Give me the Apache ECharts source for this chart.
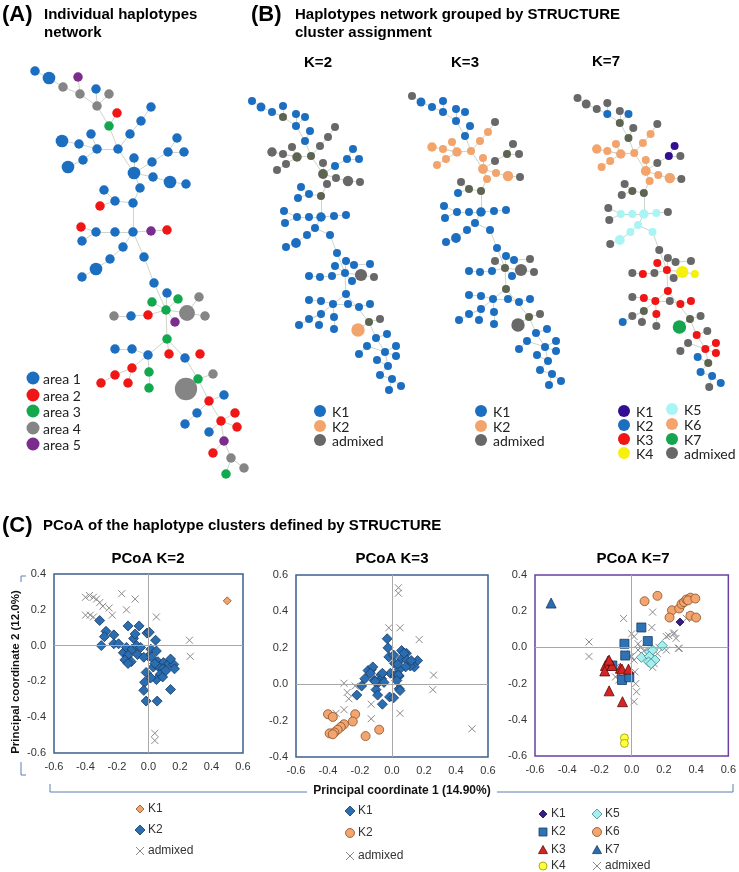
<!DOCTYPE html>
<html>
<head>
<meta charset="utf-8">
<script src="https://cdn.jsdelivr.net/npm/echarts@6/dist/echarts.min.js"></script>
<style>
  html, body { margin: 0; padding: 0; background: #fff; }
  #main { width: 739px; height: 872px; }
</style>
</head>
<body>
<div id="main"></div>
<script>
// ---------- (A) individual haplotype network (layout units)
var netA_pos = [
  [15,11],[29,18],[58,17],[43,27],[60,34],[76,29],[89,34],[77,46],[97,53],[89,66],
  [131,47],[121,61],[110,74],[98,89],[71,74],[59,84],[42,81],[77,89],[63,100],[48,107],
  [157,78],[148,92],[164,92],[114,98],[132,102],[114,113],[133,117],[150,122],[166,124],[120,128],
  [84,130],[95,141],[113,143],[80,146],[61,167],[76,172],[95,172],[113,172],[131,171],[147,170],
  [62,181],[103,187],[90,199],[76,209],[62,217],[124,197],[134,223],[147,233],[158,239],[132,242],
  [179,237],[146,250],[167,253],[185,256],[155,262],[128,255],[111,256],[94,256],[147,279],[95,289],
  [112,289],[128,295],[149,294],[165,298],[180,294],[112,308],[95,315],[81,323],[108,323],[129,312],
  [129,328],[178,319],[193,314],[166,329],[204,335],[189,341],[177,353],[165,364],[201,361],[215,353],
  [217,367],[189,372],[204,381],[193,393],[211,398],[224,408],[206,414]
];
// sampling area of each haplotype (1..5)
var netA_area = ('1154414423' + '1111111111' + '1111111111' + '1112211152' + '1111111133' +
                 '4344521431' + '1121222223' + '3344121122' + '2152443').split('');
var netA_freq = [
  1,2,1,1,1,1,1,1,1,1, 1,1,1,1,1,1,2,1,1,2, 1,1,1,1,1,2,1,2,1,1,
  1,1,1,1,1,1,1,1,1,1, 1,1,1,2,1,1,1,1,1,1, 1,1,3,1,1,1,1,1,1,1,
  1,1,1,1,1,1,1,1,1,1, 1,1,1,5,1,1,1,1,1,1, 1,1,1,1,1,1,1
];
var netA_links = [
  [0,1],[1,3],[3,4],[2,4],[4,7],[5,7],[6,7],[7,9],[8,9],[9,13],[10,11],[11,12],[12,13],[13,17],
  [14,17],[15,17],[16,15],[17,18],[18,19],[13,25],[23,25],[24,25],[21,24],[20,21],[22,21],[25,26],
  [26,27],[27,28],[25,29],[29,32],[31,32],[30,31],[33,31],[32,37],[36,37],[35,36],[34,35],[40,35],
  [37,38],[38,39],[37,41],[41,42],[42,43],[43,44],[37,45],[45,46],[46,51],[47,51],[48,51],[49,51],
  [51,52],[50,52],[52,53],[51,54],[51,55],[55,56],[56,57],[51,58],[58,61],[58,62],[58,63],[60,61],
  [59,60],[61,65],[65,66],[66,67],[65,68],[61,69],[69,70],[63,71],[71,72],[71,73],[71,75],[74,75],
  [75,76],[76,77],[75,78],[78,79],[78,80],[78,81],[78,82],[82,83],[82,84],[84,85],[84,86]
];

// ---------- (B) network grouped by STRUCTURE (same layout in the three panels)
var netB_pos = [
  [12,11],[21,17],[32,22],[43,16],[43,27],[56,24],[65,27],[56,36],[70,41],[95,37],
  [88,47],[65,51],[80,56],[32,62],[43,64],[52,57],[57,67],[71,66],[113,59],[107,69],
  [119,69],[46,74],[37,80],[83,73],[95,76],[83,84],[96,88],[108,91],[120,92],[87,94],
  [61,97],[58,108],[69,104],[81,106],[44,121],[45,133],[57,127],[69,127],[81,127],[94,126],
  [106,125],[75,138],[67,145],[56,153],[46,157],[90,145],[97,163],[95,176],[106,171],[114,175],
  [130,174],[69,186],[80,187],[92,186],[105,183],[121,185],[134,187],[112,191],[106,204],[69,210],
  [81,211],[93,214],[108,214],[119,217],[130,214],[81,224],[69,229],[94,227],[59,235],[79,235],
  [94,239],[129,232],[140,229],[118,240],[147,244],[136,248],[127,256],[145,262],[156,256],[119,264],
  [137,270],[156,266],[148,276],[140,285],[152,289],[161,296],[149,300]
];
var netB_freq = [
  1,1.3,1,1,1,1,1,1,1,1, 1,1,1,1.5,1,1,1.5,1,1,1, 1,1,1,1,1,1.6,1,1.8,1,1,
  1,1,1,1,1,1,1,1,1.5,1, 1,1,1,1.6,1,1,1,1,1,1, 1,1,1,1,1,2.4,1,1,1,1,
  1,1,1,1,1,1,1,1,1,1, 1,1,1,2.8,1,1,1,1,1,1, 1,1,1,1,1,1,1
];
var netB_links = [
  [0,1],[1,2],[2,4],[3,4],[4,7],[5,7],[6,7],[7,11],[8,11],[11,17],[16,17],[13,16],[14,16],[15,16],
  [16,21],[21,22],[12,17],[10,12],[9,10],[17,25],[23,25],[24,25],[19,24],[18,19],[19,20],[25,26],
  [26,27],[27,28],[25,29],[29,33],[32,33],[30,32],[31,32],[33,38],[37,38],[36,37],[35,36],[34,36],
  [38,39],[39,40],[38,41],[41,42],[42,43],[43,44],[41,45],[45,46],[46,54],[47,54],[48,54],[48,49],
  [49,50],[53,54],[52,53],[51,52],[54,55],[55,56],[54,57],[54,58],[58,61],[60,61],[59,60],[61,62],
  [62,63],[63,64],[61,65],[65,66],[65,68],[61,67],[67,70],[65,69],[58,71],[71,72],[71,73],[71,75],
  [74,75],[75,77],[77,78],[77,81],[76,77],[76,79],[77,82],[80,82],[82,83],[83,84],[84,85],[84,86]
];
// cluster of each haplotype: b=K1, r=K2, a=admixed, o=median/hub
var clusK2 = ('bbbbobbbba' + 'abaaaaoobb' + 'baaaboaaaa' + 'bbbobbbbbb' + 'bbbbbbbbbb' +
              'bbbbbaabbb' + 'bbbbbbbbbb' + 'boarbbbbbb' + 'bbbbbbb').split('');
var clusK3 = ('abbbbbbbba' + 'rbrrrrrrao' + 'arrrarrrar' + 'aboobbbbbb' + 'bbbbbbbabb' +
              'abbboaabob' + 'bbbbbbbbbb' + 'boaabbbbbb' + 'bbbbbbb').split('');
// K=7: digits are K1..K7
var clusK7 = ('aaaa2a2oaa' + '6o66666611' + 'a666a666a6' + 'aaooaa5555' + 'a555a5a3aa' +
              'aa3a344a3a' + '33a33oa32a' + 'aoa7a3a33a' + '23o222a').split('');

// ---------- (C) PCoA coordinates
var pcoaK2_K1 = [[0.50,0.25]];
var pcoaK2_K2 = [
  [-0.31,0.14],[-0.27,0.08],[-0.28,0.05],[-0.30,0.0],[-0.22,0.06],[-0.22,0.01],[-0.19,0.01],
  [-0.16,-0.04],[-0.13,0.11],[-0.06,0.11],[-0.095,0.04],[-0.085,0.065],[-0.14,-0.01],[-0.105,-0.02],
  [-0.13,-0.055],[-0.15,-0.08],[-0.11,-0.09],[-0.13,-0.10],[-0.075,0.0],[-0.05,-0.01],[-0.07,-0.05],
  [-0.01,0.07],[0.005,0.075],[0.015,-0.02],[0.0,-0.06],[0.045,0.03],[0.05,-0.03],[0.02,-0.065],
  [0.06,-0.09],[0.095,-0.095],[0.13,-0.10],[0.16,-0.105],[0.14,-0.075],[0.165,-0.13],[0.03,-0.12],
  [0.065,-0.12],[0.09,-0.13],[0.075,-0.16],[0.05,-0.19],[0.015,-0.18],[-0.015,-0.15],[0.09,-0.175],
  [-0.025,-0.205],[-0.03,-0.25],[-0.015,-0.31],[0.055,-0.31],[0.14,-0.245],[0.11,-0.14],[0.04,-0.10],
  [-0.03,-0.065]
];
var pcoaK2_adm = [
  [-0.40,0.27],[-0.375,0.28],[-0.35,0.27],[-0.33,0.26],[-0.31,0.24],[-0.29,0.22],[-0.25,0.21],
  [-0.23,0.17],[-0.17,0.29],[-0.14,0.20],[-0.085,0.26],[-0.40,0.17],[-0.37,0.17],[-0.35,0.16],
  [0.05,0.16],[0.26,0.03],[0.265,-0.06],[0.04,-0.49],[0.04,-0.53]
];

var pcoaK3_K1 = [
  [-0.03,0.25],[-0.025,0.20],[-0.02,0.15],[0.01,0.16],[0.06,0.185],[0.09,0.17],[0.06,0.14],
  [0.09,0.135],[0.16,0.13],[0.14,0.095],[0.115,0.10],[0.085,0.095],[0.045,0.08],[0.015,0.115],
  [-0.01,0.06],[0.02,0.045],[0.045,0.045],[-0.13,0.08],[-0.15,0.075],[-0.12,0.095],[-0.135,0.06],
  [-0.17,0.03],[-0.11,0.02],[-0.07,0.05],[-0.065,0.03],[-0.085,0.01],[-0.05,0.01],[-0.19,-0.01],
  [-0.22,-0.06],[-0.10,-0.03],[-0.09,-0.06],[-0.015,-0.07],[0.045,-0.025],[0.05,-0.035],
  [-0.06,-0.11],[0.01,-0.075],[0.075,0.17],[0.12,0.13],[0.035,0.11],[0.04,0.05],[0.03,0.02],
  [-0.105,0.015],[-0.06,0.06]
];
var pcoaK3_K2 = [
  [-0.40,-0.165],[-0.37,-0.18],[-0.23,-0.165],[-0.245,-0.205],[-0.30,-0.22],[-0.32,-0.235],
  [-0.34,-0.25],[-0.36,-0.265],[-0.39,-0.27],[-0.37,-0.275],[-0.165,-0.285],[-0.08,-0.25]
];
var pcoaK3_adm = [
  [0.04,0.53],[0.04,0.50],[-0.02,0.31],[0.05,0.31],[0.17,0.245],[0.26,0.05],[0.255,-0.03],
  [-0.30,0.005],[-0.23,-0.01],[-0.28,-0.045],[-0.27,-0.08],[-0.30,-0.14],[-0.35,-0.16],
  [-0.13,-0.11],[-0.13,-0.19],[0.05,-0.16],[0.50,-0.245]
];

var pcoaK7_K1 = [[0.30,0.14]];
var pcoaK7_K2 = [[0.06,0.11],[0.10,0.035],[-0.045,0.02],[-0.04,-0.045],[-0.06,-0.18],[-0.015,-0.165],[-0.12,-0.10]];
var pcoaK7_K3 = [
  [-0.147,-0.075],[-0.163,-0.10],[-0.167,-0.13],[-0.122,-0.10],[-0.07,-0.115],[-0.06,-0.12],
  [-0.02,-0.12],[-0.14,-0.24],[-0.057,-0.30],[-0.14,-0.07]
];
var pcoaK7_K4 = [[-0.045,-0.50],[-0.045,-0.53]];
var pcoaK7_K5 = [[0.06,-0.055],[0.11,-0.025],[0.13,-0.015],[0.19,0.01],[0.11,-0.05],[0.105,-0.08],[0.145,-0.07],[0.12,-0.09]];
var pcoaK7_K6 = [
  [0.08,0.255],[0.16,0.285],[0.25,0.205],[0.235,0.165],[0.295,0.215],[0.31,0.24],[0.325,0.25],
  [0.34,0.265],[0.365,0.275],[0.35,0.26],[0.395,0.27],[0.365,0.175],[0.40,0.165]
];
var pcoaK7_K7 = [[-0.50,0.245]];
var pcoaK7_adm = [
  [-0.05,0.16],[0.13,0.195],[0.125,0.11],[-0.265,0.03],[-0.265,-0.05],[0.0,0.075],[0.015,0.06],
  [0.055,0.0],[0.08,-0.015],[0.17,0.0],[0.215,0.06],[0.265,0.08],[0.275,0.05],[0.295,-0.005],
  [0.34,0.16],[0.36,0.175],[0.215,-0.015],[0.16,-0.035],[0.04,0.02],[-0.01,-0.05],[0.015,-0.07],
  [0.13,-0.11],[-0.08,-0.145],[-0.10,-0.11],[0.02,-0.135],[0.025,-0.2],[0.03,-0.245],[0.015,-0.30],
  [-0.10,-0.163],[-0.08,-0.18],[0.0,-0.05],[-0.045,-0.035],[0.04,-0.015],[0.12,-0.05],[0.14,-0.09],
  [0.23,0.065],[0.26,0.075],[0.29,-0.005]
];
var pcoaTicks = { k2: [-0.6, 0.4], k3: [-0.4, 0.6], k7: [-0.6, 0.4] };

// ---------- colours
var areaColors = { '1': '#1c6fc0', '2': '#f01616', '3': '#13a84e', '4': '#858585', '5': '#7b2d8e' };
var k23Colors = { b: '#1c6fc0', r: '#f3a46c', a: '#686868', o: '#5d6450' };
var k7Colors = { '1': '#330e92', '2': '#1c6fc0', '3': '#f01616', '4': '#f5f00c', '5': '#a9f5f5',
                 '6': '#f3a46c', '7': '#14a54e', a: '#686868', o: '#5d6450' };
var FONT = '"Liberation Sans", Arial, sans-serif';

function netSeries(pos, cls, freq, links, colors, axis, base, step) {
  var nodes = [];
  for (var i = 0; i < pos.length; i++) {
    nodes.push({
      name: 'n' + axis + '_' + i,
      value: pos[i],
      symbolSize: base + (freq[i] - 1) * step,
      itemStyle: { color: colors[cls[i]] }
    });
  }
  return {
    type: 'graph', coordinateSystem: 'cartesian2d', xAxisIndex: axis, yAxisIndex: axis,
    symbol: 'circle', data: nodes,
    links: links.map(function (l) { return { source: l[0], target: l[1] }; }),
    lineStyle: { color: '#cdd5ca', width: 1, opacity: 1 },
    itemStyle: { opacity: 1 },
    label: { show: false }, silent: true
  };
}

var CROSS = 'path://M0,0L10,10M10,0L0,10';
function pts(data, axis, symbol, size, color, border) {
  return {
    type: 'scatter', xAxisIndex: axis, yAxisIndex: axis, data: data, symbol: symbol,
    symbolSize: size, silent: true, z: 3,
    itemStyle: { color: color, borderColor: border, borderWidth: 0.8, opacity: 1 }
  };
}
function adm(data, axis) {
  return {
    type: 'scatter', xAxisIndex: axis, yAxisIndex: axis, data: data, symbol: CROSS,
    symbolSize: 7, silent: true, z: 2,
    itemStyle: { color: 'none', borderColor: '#8a8a8a', borderWidth: 1, opacity: 1 }
  };
}
function zeroLines(axis) {
  return {
    type: 'scatter', xAxisIndex: axis, yAxisIndex: axis, data: [], silent: true, z: 1,
    markLine: {
      silent: true, symbol: ['none', 'none'], label: { show: false },
      lineStyle: { color: '#a8a8a8', width: 1, type: 'solid' },
      data: [{ xAxis: 0 }, { yAxis: 0 }]
    }
  };
}

function fmt(v) { return Math.abs(v) < 1e-9 ? '0.0' : v.toFixed(1); }

// hidden axes for the networks, visible ones for the PCoA panels
var grids = [
  { left: 20, top: 60, width: 240, height: 440 },
  { left: 240, top: 90, width: 180, height: 320 },
  { left: 400, top: 85, width: 180, height: 320 },
  { left: 566, top: 87, width: 180, height: 320 },
  { left: 54, top: 574, width: 189, height: 179, show: true, borderColor: '#3d5f8f', borderWidth: 1.5 },
  { left: 296, top: 575, width: 192, height: 182, show: true, borderColor: '#3d5f8f', borderWidth: 1.5 },
  { left: 535, top: 575, width: 196, height: 181, show: true, borderColor: '#6a3f9e', borderWidth: 1.5 }
];
var xAxes = [], yAxes = [];
var netSize = [[240, 440], [180, 320], [180, 320], [180, 320]];
for (var g = 0; g < 4; g++) {
  xAxes.push({ type: 'value', gridIndex: g, min: 0, max: netSize[g][0], show: false });
  yAxes.push({ type: 'value', gridIndex: g, min: 0, max: netSize[g][1], inverse: true, show: false });
}
var yRanges = [pcoaTicks.k2, pcoaTicks.k3, pcoaTicks.k7];
for (var p = 0; p < 3; p++) {
  var lab = { formatter: fmt, fontSize: 11, color: '#333', fontFamily: FONT, margin: 8 };
  xAxes.push({ type: 'value', gridIndex: 4 + p, min: -0.6, max: 0.6, interval: 0.2,
    axisLine: { show: false }, axisTick: { show: false }, splitLine: { show: false }, axisLabel: lab });
  yAxes.push({ type: 'value', gridIndex: 4 + p, min: yRanges[p][0], max: yRanges[p][1], interval: 0.2,
    axisLine: { show: false }, axisTick: { show: false }, splitLine: { show: false }, axisLabel: lab });
}

var series = [
  netSeries(netA_pos, netA_area, netA_freq, netA_links, areaColors, 0, 9.5, 3.2),
  netSeries(netB_pos, clusK2, netB_freq, netB_links, k23Colors, 1, 8, 3),
  netSeries(netB_pos, clusK3, netB_freq, netB_links, k23Colors, 2, 8, 3),
  netSeries(netB_pos, clusK7, netB_freq, netB_links, k7Colors, 3, 8, 3),
  zeroLines(4), zeroLines(5), zeroLines(6),
  adm(pcoaK2_adm, 4),
  pts(pcoaK2_K2, 4, 'diamond', 10, '#2a6db0', '#173a63'),
  pts(pcoaK2_K1, 4, 'diamond', 8, '#f2a36b', '#8a5028'),
  adm(pcoaK3_adm, 5),
  pts(pcoaK3_K1, 5, 'diamond', 10, '#2a6db0', '#173a63'),
  pts(pcoaK3_K2, 5, 'circle', 9, '#f2a56e', '#8a5028'),
  adm(pcoaK7_adm, 6),
  pts(pcoaK7_K6, 6, 'circle', 9, '#f2a56e', '#8a5028'),
  pts(pcoaK7_K5, 6, 'diamond', 10, '#a6eef0', '#3a8a8a'),
  pts(pcoaK7_K2, 6, 'rect', 9, '#2e74b5', '#1a3a63'),
  pts(pcoaK7_K3, 6, 'triangle', 10, '#d42525', '#5e0b0b'),
  pts(pcoaK7_K4, 6, 'circle', 8, '#ffff3a', '#9a9a00'),
  pts(pcoaK7_K7, 6, 'triangle', 10, '#2a6db0', '#173a63'),
  pts(pcoaK7_K1, 6, 'diamond', 8, '#3b1a8a', '#1c0c46')
];

// ---------- texts, legends and brackets
function txt(x, y, s, font, align, color) {
  return { type: 'text', x: x, y: y, silent: true,
    style: { text: s, font: font, fill: color || '#000', textAlign: align || 'left',
             textVerticalAlign: 'middle', align: align || 'left', verticalAlign: 'middle' } };
}
function dot(x, y, r, color, stroke) {
  return { type: 'circle', silent: true, shape: { cx: x, cy: y, r: r },
    style: { fill: color, stroke: stroke || null, lineWidth: stroke ? 0.8 : 0 } };
}
function poly(pts, fill, stroke) {
  return { type: 'polygon', silent: true, shape: { points: pts }, style: { fill: fill, stroke: stroke, lineWidth: 0.8 } };
}
function diamond(x, y, r, fill, stroke) { return poly([[x, y - r], [x + r, y], [x, y + r], [x - r, y]], fill, stroke); }
function tri(x, y, r, fill, stroke) { return poly([[x, y - r], [x + r, y + r * 0.8], [x - r, y + r * 0.8]], fill, stroke); }
function square(x, y, r, fill, stroke) { return poly([[x - r, y - r], [x + r, y - r], [x + r, y + r], [x - r, y + r]], fill, stroke); }
function cross(x, y, r) {
  return [
    { type: 'line', silent: true, shape: { x1: x - r, y1: y - r, x2: x + r, y2: y + r }, style: { stroke: '#8a8a8a', lineWidth: 1 } },
    { type: 'line', silent: true, shape: { x1: x + r, y1: y - r, x2: x - r, y2: y + r }, style: { stroke: '#8a8a8a', lineWidth: 1 } }
  ];
}
function pline(points) {
  return { type: 'polyline', silent: true, shape: { points: points }, style: { stroke: '#5b7fb5', lineWidth: 1, fill: null } };
}

var H1 = 'bold 22px ' + FONT, H2 = 'bold 15px ' + FONT, LEG = '14px Lato, "Open Sans", sans-serif';
var LEGC = '12px ' + FONT;
var gfx = [
  txt(2, 15, '(A)', H1), txt(44, 15, 'Individual haplotypes', H2), txt(44, 33, 'network', H2),
  txt(251, 15, '(B)', H1), txt(295, 15, 'Haplotypes network grouped by STRUCTURE', H2),
  txt(295, 33, 'cluster assignment', H2),
  txt(318, 63, 'K=2', H2, 'center'), txt(465, 63, 'K=3', H2, 'center'), txt(606, 62, 'K=7', H2, 'center'),
  txt(2, 526, '(C)', H1), txt(43, 526, 'PCoA of the haplotype clusters defined by STRUCTURE', H2),
  txt(148, 559, 'PCoA K=2', H2, 'center'), txt(392, 559, 'PCoA K=3', H2, 'center'),
  txt(633, 559, 'PCoA K=7', H2, 'center'),
  // axis titles and their brackets
  { type: 'text', x: 16, y: 672, rotation: Math.PI / 2, silent: true,
    style: { text: 'Principal coordinate 2 (12.0%)', font: 'bold 11.5px ' + FONT, fill: '#111',
             textAlign: 'center', textVerticalAlign: 'middle', align: 'center', verticalAlign: 'middle' } },
  pline([[26, 576], [21, 576], [21, 582]]), pline([[21, 762], [21, 775], [26, 775]]),
  txt(402, 791, 'Principal coordinate 1 (14.90%)', 'bold 12px ' + FONT, 'center', '#111'),
  pline([[50, 784], [50, 792], [307, 792]]), pline([[497, 792], [733, 792], [733, 784]])
];

// legend (A)
var areaNames = ['area 1', 'area 2', 'area 3', 'area 4', 'area 5'];
var areaLegY = [378, 395, 411, 428, 444];
for (var i = 0; i < 5; i++) {
  gfx.push(dot(33, areaLegY[i], 6.5, areaColors[String(i + 1)]));
  gfx.push(txt(43, areaLegY[i] + 1, areaNames[i], LEG, 'left', '#222'));
}
// legends (B)
var legB = [['K1', k23Colors.b], ['K2', k23Colors.r], ['admixed', k23Colors.a]];
var legBY = [411, 426, 440];
[320, 481].forEach(function (lx) {
  for (var j = 0; j < 3; j++) {
    gfx.push(dot(lx, legBY[j], 6, legB[j][1]));
    gfx.push(txt(lx + 12, legBY[j] + 1, legB[j][0], LEG, 'left', '#222'));
  }
});
var legK7a = [['K1', k7Colors['1'], 411], ['K2', k7Colors['2'], 425], ['K3', k7Colors['3'], 439], ['K4', k7Colors['4'], 453]];
var legK7b = [['K5', k7Colors['5'], 409], ['K6', k7Colors['6'], 424], ['K7', k7Colors['7'], 439], ['admixed', k7Colors.a, 453]];
legK7a.forEach(function (d) { gfx.push(dot(624, d[2], 6, d[1])); gfx.push(txt(636, d[2] + 1, d[0], LEG, 'left', '#222')); });
legK7b.forEach(function (d) { gfx.push(dot(672, d[2], 6, d[1])); gfx.push(txt(684, d[2] + 1, d[0], LEG, 'left', '#222')); });

// legends (C)
gfx.push(diamond(140, 809, 4, '#f2a36b', '#8a5028'), txt(148, 809, 'K1', LEGC, 'left', '#333'));
gfx.push(diamond(140, 830, 5, '#2a6db0', '#173a63'), txt(148, 830, 'K2', LEGC, 'left', '#333'));
gfx = gfx.concat(cross(140, 851, 4)); gfx.push(txt(148, 851, 'admixed', LEGC, 'left', '#333'));

gfx.push(diamond(350, 811, 5, '#2a6db0', '#173a63'), txt(358, 811, 'K1', LEGC, 'left', '#333'));
gfx.push(dot(350, 833, 4.5, '#f2a56e', '#8a5028'), txt(358, 833, 'K2', LEGC, 'left', '#333'));
gfx = gfx.concat(cross(350, 856, 4)); gfx.push(txt(358, 856, 'admixed', LEGC, 'left', '#333'));

gfx.push(diamond(543, 814, 4, '#3b1a8a', '#1c0c46'), txt(551, 814, 'K1', LEGC, 'left', '#333'));
gfx.push(square(543, 832, 4, '#2e74b5', '#1a3a63'), txt(551, 832, 'K2', LEGC, 'left', '#333'));
gfx.push(tri(543, 850, 4.5, '#d42525', '#5e0b0b'), txt(551, 850, 'K3', LEGC, 'left', '#333'));
gfx.push(dot(543, 866, 4, '#ffff3a', '#9a9a00'), txt(551, 866, 'K4', LEGC, 'left', '#333'));
gfx.push(diamond(597, 814, 5, '#a6eef0', '#3a8a8a'), txt(605, 814, 'K5', LEGC, 'left', '#333'));
gfx.push(dot(597, 832, 4.5, '#f2a56e', '#8a5028'), txt(605, 832, 'K6', LEGC, 'left', '#333'));
gfx.push(tri(597, 850, 4.5, '#2a6db0', '#173a63'), txt(605, 850, 'K7', LEGC, 'left', '#333'));
gfx = gfx.concat(cross(597, 866, 4)); gfx.push(txt(605, 866, 'admixed', LEGC, 'left', '#333'));

var chart = echarts.init(document.getElementById('main'));
chart.setOption({
  animation: false,
  backgroundColor: '#fff',
  grid: grids,
  xAxis: xAxes,
  yAxis: yAxes,
  series: series,
  graphic: { elements: gfx }
});
</script>
</body>
</html>
